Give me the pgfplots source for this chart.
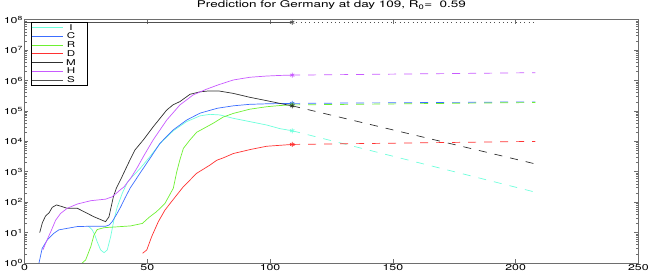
\documentclass[border=0pt]{standalone}
\usepackage{fontspec}
\setmainfont{TeX Gyre Heros}[FakeStretch=1.45]
\usepackage{pgfplots}
\pgfplotsset{compat=1.18}
\definecolor{cI}{RGB}{110,255,220}
\definecolor{cC}{RGB}{60,110,255}
\definecolor{cR}{RGB}{110,240,50}
\definecolor{cD}{RGB}{255,50,50}
\definecolor{cM}{RGB}{48,48,48}
\definecolor{cH}{RGB}{200,90,255}
\definecolor{cS}{RGB}{80,80,80}
\definecolor{axc}{RGB}{110,110,110}
\newcommand{\legent}[1]{\makebox[16pt][c]{#1}\hspace*{8pt}}
\begin{document}
\begin{tikzpicture}
\begin{axis}[
  at={(0pt,0pt)}, anchor=south west,
  scale only axis, width=613.9pt, height=243.2pt,
  ymode=log, xmin=0, xmax=250, ymin=1, ymax=1e8,
  xtick={0,50,100,150,200,250},
  ytick={1,10,100,1000,10000,100000,1000000,10000000,100000000},
  yticklabels={10\textsuperscript{0},10\textsuperscript{1},10\textsuperscript{2},10\textsuperscript{3},10\textsuperscript{4},10\textsuperscript{5},10\textsuperscript{6},10\textsuperscript{7},10\textsuperscript{8}},
  /pgf/number format/assume math mode=true,
  tick label style={font=\fontsize{8.5}{9}\selectfont, black},
  yticklabel style={inner sep=1.5pt},
  xticklabel style={inner sep=1.5pt},
  tick align=inside,
  major tick length=4pt, minor tick length=2.5pt,
  axis line style={axc, line width=0.8pt},
  every tick/.style={axc, line width=0.6pt},
  title={Prediction for Germany at day 109, R\textsubscript{0}=~~0.59},
  title style={at={(0.5,1)}, anchor=base, yshift=6pt, font=\fontsize{9.3}{10}\selectfont},
  legend style={at={(0.0106,0.991)}, anchor=north west, draw=black, line width=0.7pt,
    font=\fontsize{8}{8}\selectfont, inner xsep=0pt, inner ysep=1pt, row sep=0pt,
    nodes={inner xsep=0pt, inner ysep=0.6pt, text height=6.3pt, text depth=1.2pt}},
  legend image code/.code={\path (0pt,0pt) -- (7pt,0pt); \draw[#1, line width=0.7pt] (7pt,0pt) -- (31pt,0pt);},
  legend cell align=left,
  every axis plot/.append style={line width=0.7pt},
]
% I
\addplot[cI, mark=none] coordinates {(26,16.2)(27.5,12.6)(28.5,8.91)(29.6,5.01)(31,2.69)(32.4,2.19)(33.7,2.69)(35.1,7.41)(36.4,25.7)(37.8,70.8)(39.8,195)(41.9,450)(44,708)(47,1259)(51.1,3162)(55.2,8511)(60.6,22390)(66,44670)(71.5,69180)(75.5,77620)(79.6,74130)(85,57540)(91.8,44670)(98.6,34670)(104,26300)(109,22390)};
\addlegendentry{\legent{I}}
% C
\addplot[cC, mark=none] coordinates {(5.9,1)(7.2,3.02)(9.3,5.75)(12,9.55)(14,12.3)(17.4,13.8)(21.5,15.8)(27,16.2)(33,16.2)(34.5,17.8)(35.7,22.9)(37.5,39.8)(39.2,70.8)(41,141)(43,288)(47,891)(51.1,2754)(55.2,8710)(60.6,23990)(66,50119)(71.5,85114)(78.5,123030)(85,147910)(91.8,165960)(100,173780)(109,177830)};
\addlegendentry{\legent{C}}
% R
\addplot[cR, mark=none] coordinates {(23.5,1)(24.9,1.26)(27,3.47)(28.3,8.32)(29.6,12.6)(32.4,14.5)(37.8,15.5)(43.2,16.6)(48,20)(50.7,31.6)(53.8,49)(57.2,91.2)(60.6,288)(62,1000)(63.3,2512)(64.7,5888)(67.4,11220)(70.1,19950)(74.2,30200)(76.9,39810)(80.9,63100)(85,83180)(91.8,114820)(98.6,138040)(104,151360)(109,158490)};
\addlegendentry{\legent{R}}
% D
\addplot[cD, mark=none] coordinates {(48.1,2.09)(49.8,2.69)(51.8,7.41)(54.5,22.9)(57.2,55)(59.9,105)(64.7,324)(70.1,891)(75.5,1660)(78.3,2399)(81,2884)(85,3981)(91.8,5370)(98.6,6918)(109,7943)};
\addlegendentry{\legent{D}}
% M
\addplot[cM, mark=none] coordinates {(6.2,10)(7.3,21.4)(8.6,35.5)(10,44.7)(11.3,67.6)(13,81.3)(14.7,74.1)(17.4,63.1)(21.5,63.1)(24.2,49)(28.3,33.1)(33,22.9)(34.4,33.1)(36.2,151)(37.5,302)(39.2,562)(41,1148)(43,2500)(45,5248)(48.4,11220)(52.4,30200)(55,55000)(57.9,107150)(60.5,160000)(63.3,204170)(67.4,354810)(71.5,426580)(75,457090)(79,457090)(85,380190)(91.8,281840)(98.6,218780)(104,177830)(109,147910)};
\addlegendentry{\legent{M}}
% H
\addplot[cH, mark=none] coordinates {(7.5,2.69)(8.6,4.47)(10.7,10.7)(12.7,25.7)(14.7,42.7)(17.4,63.1)(21.5,87.1)(27,112)(33,126)(35.7,150)(37.5,200)(39.2,263)(40.5,316)(43.5,661)(46,1413)(48.4,3162)(52.4,11220)(57.9,50119)(63.3,158490)(68.7,338840)(74.2,524810)(78.9,724440)(85,1047000)(91.8,1288000)(98.6,1413000)(104,1479000)(109,1514000)};
\addlegendentry{\legent{H}}
% S
\addplot[cS, mark=none] coordinates {(0,83000000)(109,83000000)};
\addlegendentry{\legent{S}}
% predictions (dashed)
\addplot[cI, dash pattern=on 8pt off 8pt, forget plot] coordinates {(109,22390)(208,214)};
\addplot[cC, dash pattern=on 8pt off 8pt, forget plot] coordinates {(109,177830)(208,199530)};
\addplot[cR, dash pattern=on 8pt off 8pt, forget plot] coordinates {(109,158490)(208,190550)};
\addplot[cD, dash pattern=on 8pt off 8pt, forget plot] coordinates {(109,7943)(208,10000)};
\addplot[cM, dash pattern=on 8pt off 8pt, forget plot] coordinates {(109,147910)(208,1820)};
\addplot[cH, dash pattern=on 8pt off 8pt, forget plot] coordinates {(109,1514000)(208,1820000)};
\addplot[cS, dash pattern=on 0.8pt off 3.5pt, forget plot] coordinates {(109,83000000)(208,83000000)};
% markers at day 109
\addplot[cI, only marks, mark=asterisk, mark size=2.5pt, forget plot] coordinates {(109,22390)};
\addplot[cC, only marks, mark=asterisk, mark size=2.5pt, forget plot] coordinates {(109,177830)};
\addplot[cR, only marks, mark=asterisk, mark size=2.5pt, forget plot] coordinates {(109,158490)};
\addplot[cD, only marks, mark=asterisk, mark size=2.5pt, forget plot] coordinates {(109,7943)};
\addplot[cM, only marks, mark=asterisk, mark size=2.5pt, forget plot] coordinates {(109,147910)};
\addplot[cH, only marks, mark=asterisk, mark size=2.5pt, forget plot] coordinates {(109,1514000)};
\addplot[cS, only marks, mark=asterisk, mark size=2.5pt, forget plot] coordinates {(109,83000000)};
\end{axis}
\pgfresetboundingbox
\useasboundingbox (-24.5pt,-10pt) rectangle (629.5pt,263pt);
\end{tikzpicture}
\end{document}
